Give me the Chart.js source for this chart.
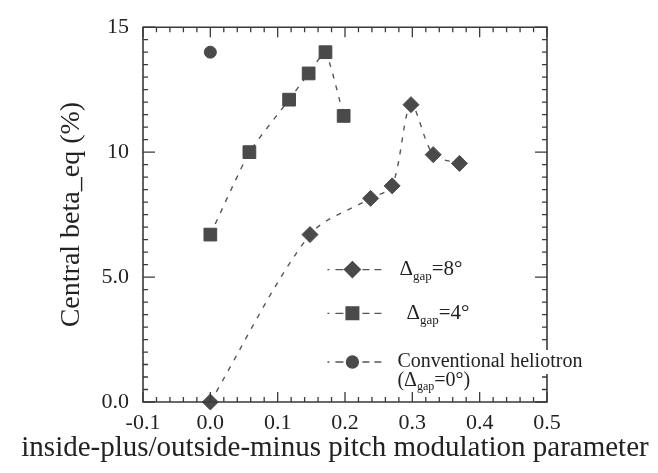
<!DOCTYPE html>
<html>
<head>
<meta charset="utf-8">
<script src="https://cdn.jsdelivr.net/npm/chart.js@4.4.0/dist/chart.umd.min.js"></script>
<style>
  html, body { margin: 0; padding: 0; background: #fff; }
  #wrap { width: 658px; height: 473px; }
</style>
</head>
<body>
<div id="wrap"><canvas id="beta-chart"></canvas></div>
<script>
// pitch modulation parameter vs central beta
var gap8X = [0.0, 0.148, 0.238, 0.270, 0.298, 0.331, 0.370];
var gap8Y = [0.0, 6.7, 8.15, 8.65, 11.9, 9.9, 9.55];

var gap4X = [0.0, 0.058, 0.117, 0.146, 0.171, 0.198];
var gap4Y = [6.7, 10.0, 12.1, 13.15, 14.0, 11.45];

var gap0X = [0.0];
var gap0Y = [14.0];

var xTicks = [-0.1, 0.0, 0.1, 0.2, 0.3, 0.4, 0.5];
var yTicks = [0, 5, 10, 15];

var legendNames = ["=8\u00b0", "=4\u00b0", "Conventional heliotron"];
var xTitle = "inside-plus/outside-minus pitch modulation parameter";

var INK = "#3a3a3a";
var MARK = "#4a4a4a";
var SERIF = "'Liberation Serif', 'DejaVu Serif', serif";

function toPoints(xs, ys) {
  var pts = [];
  for (var i = 0; i < xs.length; i++) pts.push({x: xs[i], y: ys[i]});
  return pts;
}

// frame with inward ticks on all 4 sides
var framePlugin = {
  id: "frame",
  afterDraw: function(chart) {
    var ctx = chart.ctx;
    var a = chart.chartArea;
    var xs = chart.scales.x, ys = chart.scales.y;
    ctx.save();
    ctx.strokeStyle = INK;
    ctx.lineWidth = 1.6;
    ctx.beginPath();
    ctx.rect(a.left, a.top, a.right - a.left, a.bottom - a.top);
    ctx.stroke();
    ctx.lineWidth = 1.3;
    ctx.beginPath();
    for (var k = -50; k <= 250; k += 10) {
      var px = xs.getPixelForValue(k / 500);
      var len = (k % 50 === 0) ? 10 : 5;
      ctx.moveTo(px, a.bottom); ctx.lineTo(px, a.bottom - len);
      ctx.moveTo(px, a.top); ctx.lineTo(px, a.top + len);
    }
    for (var j = 0; j <= 30; j++) {
      var py = ys.getPixelForValue(j / 2);
      var ln = (j % 10 === 0) ? 12 : 5;
      ctx.moveTo(a.left, py); ctx.lineTo(a.left + ln, py);
      ctx.moveTo(a.right, py); ctx.lineTo(a.right - ln, py);
    }
    ctx.stroke();

    // x title, wider than the plot so drawn here without maxWidth
    ctx.fillStyle = "#222";
    ctx.font = "29px " + SERIF;
    ctx.textAlign = "center";
    ctx.textBaseline = "middle";
    ctx.fillText(xTitle, chart.width / 2 + 6, 448);
    ctx.restore();
  }
};

// legend drawn inside the plot area
var legendPlugin = {
  id: "innerLegend",
  afterDraw: function(chart) {
    var ctx = chart.ctx;
    var xs = chart.scales.x, ys = chart.scales.y;
    var styles = ["rectRot", "rect", "circle"];
    var radii = [8, 9, 6];
    var rowY = [ys.getPixelForValue(5.3), ys.getPixelForValue(3.55), ys.getPixelForValue(1.6)];
    var cx = xs.getPixelForValue(0.211);
    ctx.save();
    for (var i = 0; i < 3; i++) {
      var y = rowY[i];
      if (i === 2) {
        ctx.fillStyle = "#fff";
        ctx.fillRect(cx + 42, y - 12, 210, 24);
      }
      ctx.strokeStyle = "#555";
      ctx.lineWidth = 1.3;
      ctx.beginPath();
      ctx.moveTo(cx - 25, y); ctx.lineTo(cx - 23, y);
      ctx.moveTo(cx - 17, y); ctx.lineTo(cx - 9, y);
      ctx.moveTo(cx + 10, y); ctx.lineTo(cx + 17, y);
      ctx.moveTo(cx + 22, y); ctx.lineTo(cx + 29, y);
      ctx.stroke();
      ctx.fillStyle = MARK;
      ctx.strokeStyle = MARK;
      Chart.helpers.drawPoint(ctx, {pointStyle: styles[i], radius: radii[i], rotation: 0, borderWidth: 1}, cx, y);
      ctx.fillStyle = "#222";
      ctx.textBaseline = "middle";
      if (i < 2) {
        var tx = cx + (i === 0 ? 47 : 54);
        ctx.font = "21px " + SERIF;
        ctx.fillText("\u0394", tx, y);
        var w = ctx.measureText("\u0394").width;
        ctx.font = "13px " + SERIF;
        ctx.fillText("gap", tx + w, y + 7);
        var w2 = ctx.measureText("gap").width;
        ctx.font = "21px " + SERIF;
        ctx.fillText(legendNames[i], tx + w + w2, y);
      } else {
        var tx2 = cx + 45;
        ctx.font = "20px " + SERIF;
        ctx.fillText(legendNames[2], tx2, y);
        var y2 = y + 19;
        ctx.fillText("(\u0394", tx2, y2);
        var w3 = ctx.measureText("(\u0394").width;
        ctx.font = "12px " + SERIF;
        ctx.fillText("gap", tx2 + w3, y2 + 6);
        var w4 = ctx.measureText("gap").width;
        ctx.font = "20px " + SERIF;
        ctx.fillText("=0\u00b0)", tx2 + w3 + w4, y2);
      }
    }
    ctx.restore();
  }
};

function lineSet(label, xs, ys, style, radius, tension) {
  return {
    label: label,
    data: toPoints(xs, ys),
    showLine: true,
    borderColor: "#555",
    borderWidth: 1.4,
    borderDash: [5, 7],
    tension: tension,
    pointStyle: style,
    pointRadius: radius,
    pointHoverRadius: radius,
    pointBackgroundColor: MARK,
    pointBorderColor: MARK,
    pointBorderWidth: 1,
    clip: false
  };
}

new Chart(document.getElementById("beta-chart"), {
  type: "scatter",
  data: {
    datasets: [
      lineSet("gap=8", gap8X, gap8Y, "rectRot", 8, 0.3),
      lineSet("gap=4", gap4X, gap4Y, "rect", 9, 0.15),
      lineSet("gap=0", gap0X, gap0Y, "circle", 6, 0)
    ]
  },
  options: {
    responsive: true,
    maintainAspectRatio: false,
    animation: false,
    layout: { padding: { top: 21, right: 111, left: 0, bottom: 0 } },
    plugins: {
      legend: { display: false },
      tooltip: { enabled: false }
    },
    scales: {
      x: {
        type: "linear",
        min: -0.1, max: 0.5,
        afterBuildTicks: function(scale) {
          scale.ticks = xTicks.map(function(v) { return {value: v}; });
        },
        afterFit: function(scale) { scale.height = 71; },
        grid: { display: false, drawTicks: false },
        border: { display: false },
        ticks: {
          padding: 8,
          color: "#222",
          font: { family: SERIF, size: 22 },
          maxRotation: 0,
          callback: function(v) { return v.toFixed(1); }
        }
      },
      y: {
        type: "linear",
        min: 0, max: 15,
        afterBuildTicks: function(scale) {
          scale.ticks = yTicks.map(function(v) { return {value: v}; });
        },
        afterFit: function(scale) { scale.width = 143; },
        grid: { display: false, drawTicks: false },
        border: { display: false },
        ticks: {
          padding: 14,
          color: "#222",
          font: { family: SERIF, size: 22 },
          callback: function(v) { return v >= 10 ? String(v) : v.toFixed(1); }
        },
        title: {
          display: true,
          text: "Central beta_eq (%)",
          color: "#222",
          font: { family: SERIF, size: 28 },
          padding: { top: 55, bottom: 0 }
        }
      }
    }
  },
  plugins: [framePlugin, legendPlugin]
});
</script>
</body>
</html>
